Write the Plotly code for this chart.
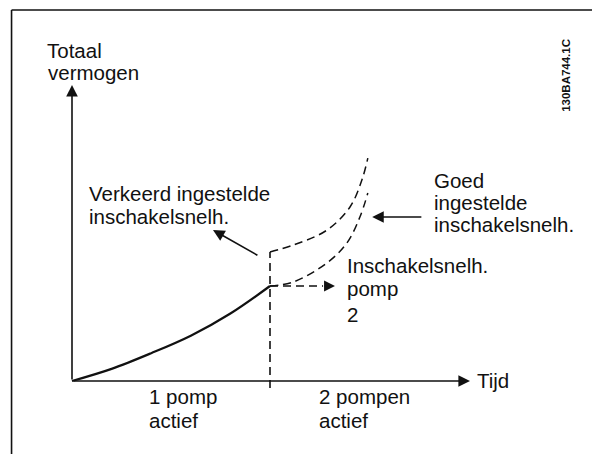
import plotly.graph_objects as go

# Total power versus time while a second pump is switched in
t_one = [0, 1, 2, 3, 4, 5]
p_one = [0, 0.41, 0.94, 1.53, 2.28, 3.21]

t_switch = 5.0
p_switch_low = -0.24
p_switch_high = 4.36

# Wrongly set staging speed: power jumps at the switch moment
t_wrong = [5.0, 5.58, 6.44, 7.02, 7.32, 7.47]
p_wrong = [4.36, 4.59, 5.10, 5.88, 6.79, 7.53]

# Correctly set staging speed: power continues smoothly
t_good = [5.0, 5.58, 6.44, 6.94, 7.27, 7.47]
p_good = [3.21, 3.34, 3.99, 4.66, 5.54, 6.35]

# Staging speed of pump 2 (dashed arrow)
t_stage = [5.0, 6.64]
p_stage = [3.21, 3.21]

# Axis arrows
t_axis_end = 10.05
p_axis_end = 10.0

# Pointer arrows for the two callouts (tail, tip)
t_wrong_ptr = [4.72, 3.56]
p_wrong_ptr = [4.22, 5.10]
t_good_ptr = [8.86, 7.58]
p_good_ptr = [5.54, 5.54]

INK = "#111111"
FONT = "Liberation Sans, Arial, sans-serif"
FS = 20.5

fig = go.Figure()


def arrow(xs, ys, width=1.6, size=1.45):
    """Solid arrow from (xs[0], ys[0]) to (xs[1], ys[1]) with a filled head."""
    fig.add_annotation(x=xs[1], y=ys[1], ax=xs[0], ay=ys[0], axref="x", ayref="y",
                       xref="x", yref="y", text="", showarrow=True,
                       arrowhead=2, arrowsize=size, arrowwidth=width, arrowcolor=INK)


# axes
arrow([0, 0], [0, p_axis_end])
arrow([0, t_axis_end], [0, 0])

# one pump running
fig.add_trace(go.Scatter(x=t_one, y=p_one, mode="lines", line=dict(color=INK, width=2.2, shape="spline"),
                         hoverinfo="skip", showlegend=False))

# switch moment
dash = "8px,5px"
fig.add_trace(go.Scatter(x=[t_switch, t_switch], y=[p_switch_low, p_switch_high], mode="lines",
                         line=dict(color=INK, width=1.6, dash=dash), hoverinfo="skip", showlegend=False))
fig.add_trace(go.Scatter(x=t_wrong, y=p_wrong, mode="lines", line=dict(color=INK, width=1.5, dash=dash, shape="spline"),
                         hoverinfo="skip", showlegend=False))
fig.add_trace(go.Scatter(x=t_good, y=p_good, mode="lines", line=dict(color=INK, width=1.5, dash=dash, shape="spline"),
                         hoverinfo="skip", showlegend=False))

# dashed staging arrow: dashed shaft, short solid piece carrying the head
head_len = 0.3
fig.add_trace(go.Scatter(x=[t_stage[0], t_stage[1] - head_len], y=p_stage, mode="lines",
                         line=dict(color=INK, width=1.5, dash=dash), hoverinfo="skip", showlegend=False))
arrow([t_stage[1] - head_len, t_stage[1]], p_stage, width=1.5)

# callout pointers
arrow(t_wrong_ptr, p_wrong_ptr)
arrow(t_good_ptr, p_good_ptr)

labels = [
    ("Totaal", -0.68, 11.18),
    ("vermogen", -0.66, 10.41),
    ("Verkeerd ingestelde", 0.38, 6.33),
    ("inschakelsnelh.", 0.38, 5.57),
    ("Goed", 9.09, 6.77),
    ("ingestelde", 9.09, 6.03),
    ("inschakelsnelh.", 9.09, 5.28),
    ("Inschakelsnelh.", 6.89, 3.89),
    ("pomp", 6.89, 3.11),
    ("2", 6.89, 2.26),
    ("Tijd", 10.18, 0.03),
    ("1 pomp", 1.89, -0.54),
    ("actief", 1.89, -1.32),
    ("2 pompen", 6.19, -0.54),
    ("actief", 6.19, -1.32),
]
for text, x, y in labels:
    fig.add_annotation(x=x, y=y, text=text, showarrow=False, xanchor="left", yanchor="middle",
                       font=dict(family=FONT, size=FS, color=INK))

fig.add_annotation(xref="paper", yref="paper", x=0.956, y=0.835, text="<b>130BA744.1C</b>",
                   textangle=-90, showarrow=False, xanchor="center", yanchor="middle",
                   font=dict(family=FONT, size=11.5, color=INK))

# page frame
fig.add_shape(type="line", xref="paper", yref="paper", x0=0.0195, x1=0.0195, y0=0, y1=0.978,
              line=dict(color=INK, width=1.6))
fig.add_shape(type="line", xref="paper", yref="paper", x0=0.0195, x1=1, y0=0.978, y1=0.978,
              line=dict(color=INK, width=1.6))

fig.update_layout(
    width=592, height=454, margin=dict(l=0, r=0, t=0, b=0),
    paper_bgcolor="white", plot_bgcolor="white",
    xaxis=dict(range=[-1.818, 13.131], visible=False, fixedrange=True),
    yaxis=dict(range=[-2.466, 12.872], visible=False, fixedrange=True),
)

fig.write_html("out.html")
